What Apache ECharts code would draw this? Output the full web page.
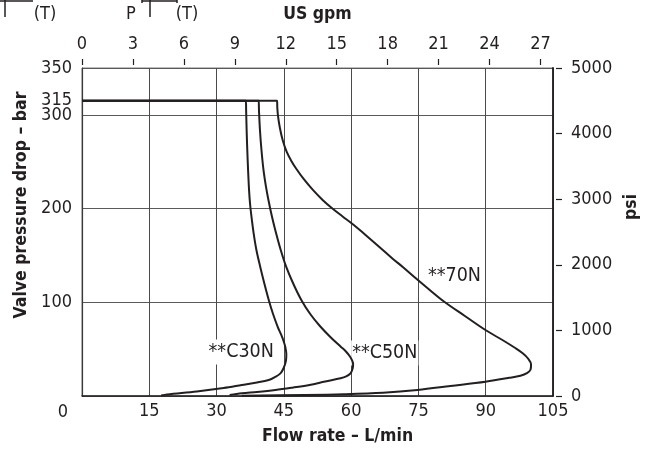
<!DOCTYPE html>
<html>
<head>
<meta charset="utf-8">
<script src="https://cdn.jsdelivr.net/npm/echarts@6/dist/echarts.min.js"></script>
<style>
html,body{margin:0;padding:0;background:#fff;}
#c{width:646px;height:449px;}
</style>
</head>
<body>
<div id="c"></div>
<script>
// ---- data (flow L/min, pressure bar) ----
const curveNames = ['**C30N', '**C50N', '**70N'];
const c30n = [[0,315],[36.52,315],[36.59,305.2],[36.70,283.9],[36.93,251.9],[37.24,219.9],[37.49,203.8],[37.87,187.8],[38.25,174.0],[38.88,155.8],[39.74,137.7],[40.68,119.5],[41.63,102.5],[42.59,87.5],[43.65,73.6],[44.42,65.1],[44.93,58.7],[45.32,52.3],[45.55,44.8],[45.46,37.4],[44.96,29.9],[44.24,24.2],[43.04,20.3],[41.63,17.1],[39.0,14.4],[35.62,11.7],[31.57,8.5],[25.59,4.8],[18.97,1.6],[17.65,0.5]];
const c50n = [[0,315],[39.38,315],[39.45,305.2],[39.67,283.9],[40.01,262.5],[40.46,241.2],[41.02,223.1],[41.56,209.2],[42.37,191.0],[43.27,173.6],[44.30,155.8],[45.53,137.7],[47.13,119.5],[48.89,102.5],[50.88,87.5],[53.03,74.7],[55.36,63.0],[57.69,52.6],[58.84,47.5],[59.77,41.9],[60.26,37.4],[60.44,33.6],[60.31,28.8],[59.86,24.2],[58.90,21.0],[57.64,18.9],[54.21,15.5],[50.71,11.7],[46.90,8.9],[43.11,6.4],[39.0,4.3],[35.62,2.9],[32.92,1.1]];
const n70 = [[0,315],[43.49,315],[43.54,307.4],[43.72,297.8],[44.12,286.0],[44.73,273.2],[45.64,260.4],[46.67,250.8],[47.65,243.3],[49.41,231.6],[51.47,219.9],[53.64,209.2],[55.82,200.1],[58.10,191.6],[60.59,182.5],[63.21,171.8],[66.42,158.5],[69.32,146.2],[71.51,137.7],[74.35,125.9],[77.26,114.2],[80.77,100.6],[85.35,85.4],[89.94,70.4],[94.09,58.7],[96.59,51.2],[98.25,45.6],[99.43,40.0],[100.11,33.6],[100.0,28.3],[99.2,24.5],[97.73,21.7],[95.23,19.4],[89.94,15.3],[82.18,10.7],[74.78,6.4],[67.12,3.5],[58.33,1.9],[49.58,1.1],[35.62,0.4]];
const curveLabelPos = [[28.0,47],[60.0,46],[76.9,128]];
const barLabels = [0,100,200,300,315,350];
const flowTicks = [0,15,30,45,60,75,90,105];
const gpmTicks = [0,3,6,9,12,15,18,21,24,27];
const psiTicks = [0,1000,2000,3000,4000,5000];
const titles = {x:'Flow rate – L/min', xTop:'US gpm', y:'Valve pressure drop – bar', yRight:'psi'};
const symbolTexts = ['(T)','P','(T)'];

const LPM_PER_GPM = 3.785411784;
const FONT = '"Liberation Sans Narrow","DejaVu Sans Condensed","Arial Narrow",sans-serif';
const INK = '#231f20';
const TICK_FS = 18, TITLE_FS = 17.5, CURVE_FS = 19.5;

const chart = echarts.init(document.getElementById('c'), null, {renderer:'canvas'});
const lbl = {fontFamily:FONT, fontSize:TICK_FS, color:INK};
const ttl = {fontFamily:FONT, fontSize:TITLE_FS, fontWeight:'bold', color:INK};

function curve(name, data){
  return {name, type:'line', data, xAxisIndex:0, yAxisIndex:0, smooth:0.35, symbol:'none', z:3,
    lineStyle:{color:INK, width:2}, silent:true};
}

chart.setOption({
  animation:false,
  backgroundColor:'#fff',
  textStyle:{fontFamily:FONT},
  grid:{left:82, top:68, right:93, bottom:53, show:true, borderColor:'#7a7a7a', borderWidth:1,
    containLabel:false, outerBoundsMode:'none'},
  xAxis:[
    {type:'value', position:'bottom', min:flowTicks[0], max:flowTicks[flowTicks.length-1], interval:15,
      name:titles.x, nameLocation:'middle', nameGap:31, nameMoveOverlap:false,
      nameTextStyle:Object.assign({}, ttl, {padding:[0,0,0,40]}),
      axisLine:{show:true, onZero:false, lineStyle:{color:INK, width:1.5}}, axisTick:{show:false},
      axisLabel:Object.assign({}, lbl, {margin:6, formatter:v => v===0 ? '' : String(v)}),
      splitLine:{show:true, lineStyle:{color:'#4a4a4a', width:1}}},
    {type:'value', position:'top', min:0, max:flowTicks[flowTicks.length-1]/LPM_PER_GPM, interval:3, offset:3,
      name:titles.xTop, nameLocation:'middle', nameGap:42, nameMoveOverlap:false, nameTextStyle:ttl,
      axisLine:{show:false, onZero:false}, axisTick:{show:true, length:6, lineStyle:{color:INK, width:1.2}, customValues:gpmTicks},
      axisLabel:Object.assign({}, lbl, {margin:12, customValues:gpmTicks, formatter:v => String(v)}),
      splitLine:{show:false}}
  ],
  yAxis:[
    {type:'value', position:'left', min:0, max:350, interval:100,
      name:titles.y, nameLocation:'middle', nameGap:52, nameRotate:90, nameMoveOverlap:false,
      nameTextStyle:Object.assign({}, ttl, {padding:[0,0,0,54]}),
      axisLine:{show:true, onZero:false, lineStyle:{color:'#3a3a3a', width:1.2}}, axisTick:{show:false},
      axisLabel:Object.assign({}, lbl, {margin:10, customValues:barLabels,
        formatter:v => v===0 ? '{z|0}' : String(v),
        rich:{z:{fontFamily:FONT, fontSize:TICK_FS, color:INK, padding:[32,4,0,0]}}}),
      splitLine:{show:true, lineStyle:{color:'#5a5a5a', width:1}}},
    {type:'value', position:'right', min:0, max:5000, interval:1000, offset:3,
      name:titles.yRight, nameLocation:'middle', nameGap:66, nameRotate:90, nameMoveOverlap:false,
      nameTextStyle:Object.assign({}, ttl, {padding:[0,0,0,50]}),
      axisLine:{show:false, onZero:false}, axisTick:{show:true, length:6, lineStyle:{color:INK, width:1.2}, customValues:psiTicks},
      axisLabel:Object.assign({}, lbl, {margin:15, customValues:psiTicks, formatter:v => String(v)}),
      splitLine:{show:false}},
    {type:'value', position:'right', min:0, max:350, offset:0,
      axisLine:{show:true, onZero:false, lineStyle:{color:INK, width:1.8}}, axisTick:{show:false}, axisLabel:{show:false}, splitLine:{show:false}}
  ],
  series:[
    {type:'scatter', xAxisIndex:0, yAxisIndex:0, z:1, symbolSize:0, silent:true,
      itemStyle:{opacity:1},
      data:curveLabelPos.map((p,i)=>({value:p, name:curveNames[i]})),
      label:{show:true, position:'right', distance:0, formatter:p=>p.name, opacity:1,
        fontFamily:FONT, fontSize:CURVE_FS, color:INK, backgroundColor:'#fff', padding:[3,1,2,1]}},
    curve(curveNames[0], c30n),
    curve(curveNames[1], c50n),
    curve(curveNames[2], n70)
  ],
  graphic:[
    {type:'line', shape:{x1:0,y1:1,x2:33,y2:1}, style:{stroke:INK, lineWidth:1.5}},
    {type:'line', shape:{x1:5,y1:0,x2:5,y2:17}, style:{stroke:INK, lineWidth:1.5}},
    {type:'line', shape:{x1:142,y1:1,x2:177,y2:1}, style:{stroke:INK, lineWidth:1.5}},
    {type:'line', shape:{x1:142,y1:0,x2:142,y2:3}, style:{stroke:INK, lineWidth:1.5}},
    {type:'line', shape:{x1:177,y1:0,x2:177,y2:3}, style:{stroke:INK, lineWidth:1.5}},
    {type:'line', shape:{x1:150,y1:0,x2:150,y2:17}, style:{stroke:INK, lineWidth:1.5}},
    {type:'text', x:45, y:14, style:{text:symbolTexts[0], font:TICK_FS+'px '+FONT, fill:INK, textAlign:'center', textVerticalAlign:'middle'}},
    {type:'text', x:131, y:14, style:{text:symbolTexts[1], font:TICK_FS+'px '+FONT, fill:INK, textAlign:'center', textVerticalAlign:'middle'}},
    {type:'text', x:187, y:14, style:{text:symbolTexts[2], font:TICK_FS+'px '+FONT, fill:INK, textAlign:'center', textVerticalAlign:'middle'}}
  ]
});
</script>
</body>
</html>
